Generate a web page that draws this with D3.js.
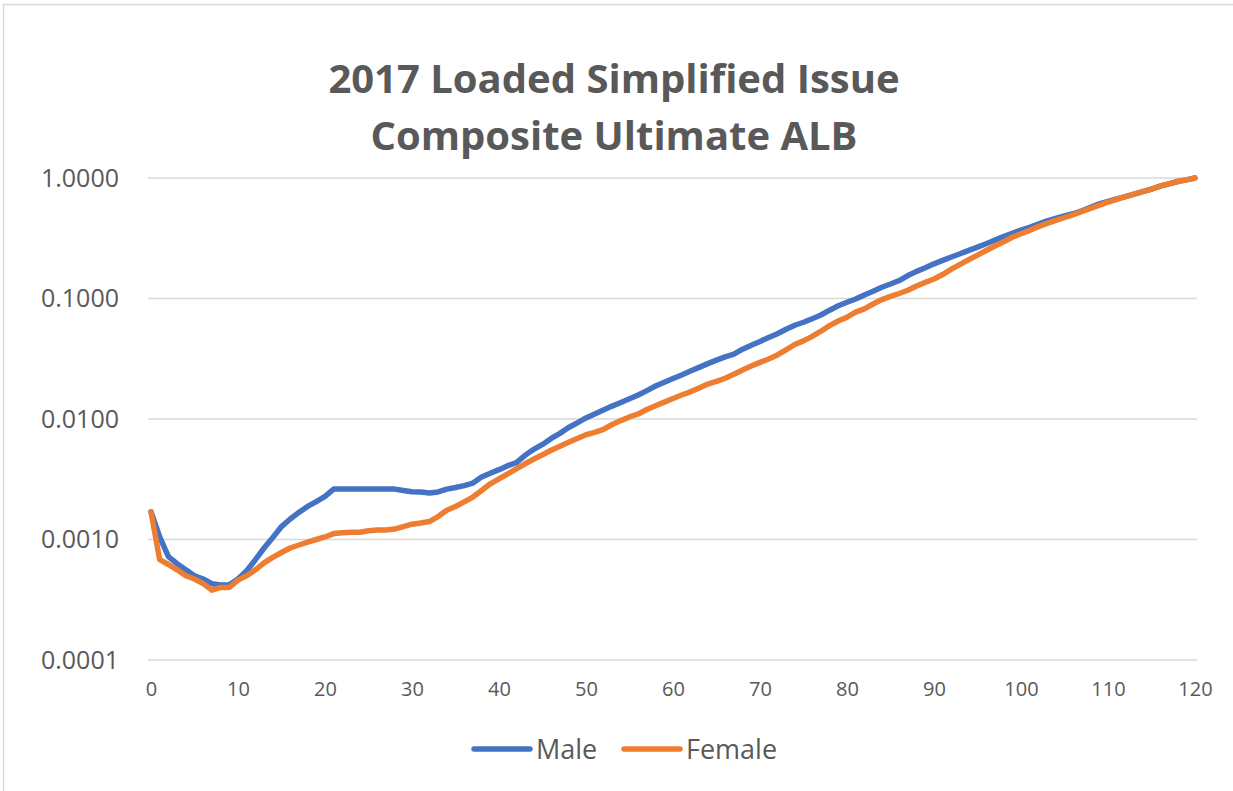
<!DOCTYPE html>
<html>
<head>
<meta charset="utf-8">
<script src="https://cdn.jsdelivr.net/npm/d3@7"></script>
<style>
  body { margin: 0; background: #fff; }
  svg { display: block; font-family: "Open Sans", "Noto Sans", sans-serif; }
</style>
</head>
<body>
<svg id="chart" width="1233" height="791"></svg>
<script>
// ages 0..120
var ages = d3.range(0, 121);

var male = [
  0.0017, 0.00105, 0.00072, 0.00063, 0.00056, 0.00050, 0.00047, 0.00043, 0.00042, 0.00042,
  0.00047, 0.00055, 0.00068, 0.00085, 0.00104, 0.00128, 0.00148, 0.00168, 0.00188, 0.00206,
  0.00228, 0.00262, 0.00262, 0.00262, 0.00262, 0.00262, 0.00262, 0.00262, 0.00262, 0.00255,
  0.00249, 0.00248, 0.00243, 0.00248, 0.00262, 0.00270, 0.00280, 0.00294, 0.00330, 0.00355,
  0.00380, 0.00410, 0.00435, 0.00500, 0.00560, 0.00615, 0.00690, 0.00760, 0.00850, 0.00930,
  0.01020, 0.01100, 0.01190, 0.01280, 0.01370, 0.01470, 0.01580, 0.01720, 0.01880, 0.02020,
  0.02170, 0.02320, 0.02500, 0.02680, 0.02880, 0.03080, 0.03280, 0.03450, 0.03800, 0.04100,
  0.04400, 0.04750, 0.05100, 0.05550, 0.06000, 0.06350, 0.06800, 0.07300, 0.08000, 0.08700,
  0.09300, 0.09900, 0.10700, 0.11500, 0.12400, 0.13200, 0.14100, 0.15500, 0.16800, 0.18000,
  0.19400, 0.20700, 0.22100, 0.23500, 0.25100, 0.26700, 0.28500, 0.30500, 0.32700, 0.34800,
  0.36900, 0.39000, 0.41500, 0.44000, 0.46300, 0.48500, 0.50500, 0.53500, 0.57000, 0.61000,
  0.64000, 0.67000, 0.70000, 0.73500, 0.77000, 0.81000, 0.85500, 0.89500, 0.93500, 0.96500,
  1.0
];

var female = [
  0.0017, 0.00068, 0.00062, 0.00056, 0.00050, 0.00047, 0.00043, 0.00038, 0.00040, 0.00040,
  0.00046, 0.00050, 0.00056, 0.00064, 0.00071, 0.00078, 0.00085, 0.00090, 0.00095, 0.00100,
  0.00105, 0.00112, 0.00114, 0.00115, 0.00115, 0.00118, 0.00120, 0.00120, 0.00122, 0.00128,
  0.00134, 0.00137, 0.00141, 0.00155, 0.00175, 0.00188, 0.00205, 0.00225, 0.00255, 0.00290,
  0.00318, 0.00350, 0.00385, 0.00425, 0.00465, 0.00505, 0.00550, 0.00595, 0.00640, 0.00690,
  0.00740, 0.00775, 0.00820, 0.00900, 0.00970, 0.01040, 0.01100, 0.01200, 0.01290, 0.01380,
  0.01480, 0.01580, 0.01680, 0.01810, 0.01950, 0.02050, 0.02180, 0.02350, 0.02550, 0.02750,
  0.02950, 0.03150, 0.03400, 0.03750, 0.04150, 0.04450, 0.04850, 0.05350, 0.05950, 0.06500,
  0.07000, 0.07700, 0.08200, 0.09000, 0.09800, 0.10400, 0.11000, 0.11700, 0.12700, 0.13600,
  0.14500, 0.15800, 0.17500, 0.19200, 0.21000, 0.22900, 0.25000, 0.27200, 0.29600, 0.32200,
  0.34500, 0.36800, 0.39500, 0.42000, 0.44500, 0.47000, 0.49500, 0.52800, 0.56000, 0.59500,
  0.63000, 0.66500, 0.70000, 0.73500, 0.77000, 0.81000, 0.85500, 0.89500, 0.93500, 0.96500,
  1.0
];

var yTicks = [0.0001, 0.001, 0.01, 0.1, 1];
var xTicks = [0, 10, 20, 30, 40, 50, 60, 70, 80, 90, 100, 110, 120];
var titleLines = ["2017 Loaded Simplified Issue", "Composite Ultimate ALB"];
var seriesNames = ["Male", "Female"];
var seriesColors = ["#4472C4", "#ED7D31"];

var svg = d3.select("#chart");
var textColor = "#595959";

// chart frame (only top & left edges show in the screenshot)
svg.append("rect")
  .attr("x", 3.5).attr("y", 4.5)
  .attr("width", 1300).attr("height", 900)
  .attr("fill", "none")
  .attr("stroke", "#d9d9d9")
  .attr("stroke-width", 1.5);

var x = d3.scaleLinear().domain([0, 120]).range([151, 1195]);
var y = d3.scaleLog().domain([0.0001, 1]).range([660, 178]);

// title
svg.append("g").selectAll("text")
  .data(titleLines)
  .enter().append("text")
    .attr("x", 614)
    .attr("y", function(d, i) { return 93 + i * 57; })
    .attr("text-anchor", "middle")
    .attr("fill", textColor)
    .attr("font-size", 40)
    .attr("font-weight", "bold")
    .text(function(d) { return d; });

// gridlines
svg.append("g")
  .selectAll("line")
  .data(yTicks)
  .enter().append("line")
    .attr("x1", 148).attr("x2", 1197)
    .attr("y1", function(d) { return y(d); })
    .attr("y2", function(d) { return y(d); })
    .attr("stroke", "#d9d9d9")
    .attr("stroke-width", 1.5);

// y axis
var yAxis = svg.append("g")
  .attr("transform", "translate(148,0)")
  .call(d3.axisLeft(y).tickValues(yTicks).tickFormat(d3.format(".4f")).tickSize(0).tickPadding(29));
yAxis.select(".domain").remove();
yAxis.selectAll("text")
  .attr("fill", textColor)
  .attr("font-size", 25)
  .attr("font-family", "Open Sans");

// x axis
var xAxis = svg.append("g")
  .attr("transform", "translate(0,660)")
  .call(d3.axisBottom(x).tickValues(xTicks).tickSize(0).tickPadding(22));
xAxis.select(".domain").remove();
xAxis.selectAll("text")
  .attr("fill", textColor)
  .attr("font-size", 20)
  .attr("font-family", "Open Sans");

// lines
var line = d3.line()
  .x(function(d) { return x(d[0]); })
  .y(function(d) { return y(d[1]); });

var series = [male, female];
svg.append("g")
  .selectAll("path")
  .data(series)
  .enter().append("path")
    .attr("d", function(s) { return line(ages.map(function(a, i) { return [a, s[i]]; })); })
    .attr("fill", "none")
    .attr("stroke", function(d, i) { return seriesColors[i]; })
    .attr("stroke-width", 5.5)
    .attr("stroke-linejoin", "round")
    .attr("stroke-linecap", "round");

// legend
var legendX = [474, 624];
var legend = svg.append("g")
  .selectAll("g")
  .data(seriesNames)
  .enter().append("g")
    .attr("transform", function(d, i) { return "translate(" + legendX[i] + ",749)"; });
legend.append("line")
  .attr("x1", 0).attr("x2", 56)
  .attr("stroke", function(d, i) { return seriesColors[i]; })
  .attr("stroke-width", 5.5)
  .attr("stroke-linecap", "round");
legend.append("text")
  .attr("x", 62)
  .attr("y", 10)
  .attr("fill", textColor)
  .attr("font-size", 27)
  .text(function(d) { return d; });
</script>
</body>
</html>
